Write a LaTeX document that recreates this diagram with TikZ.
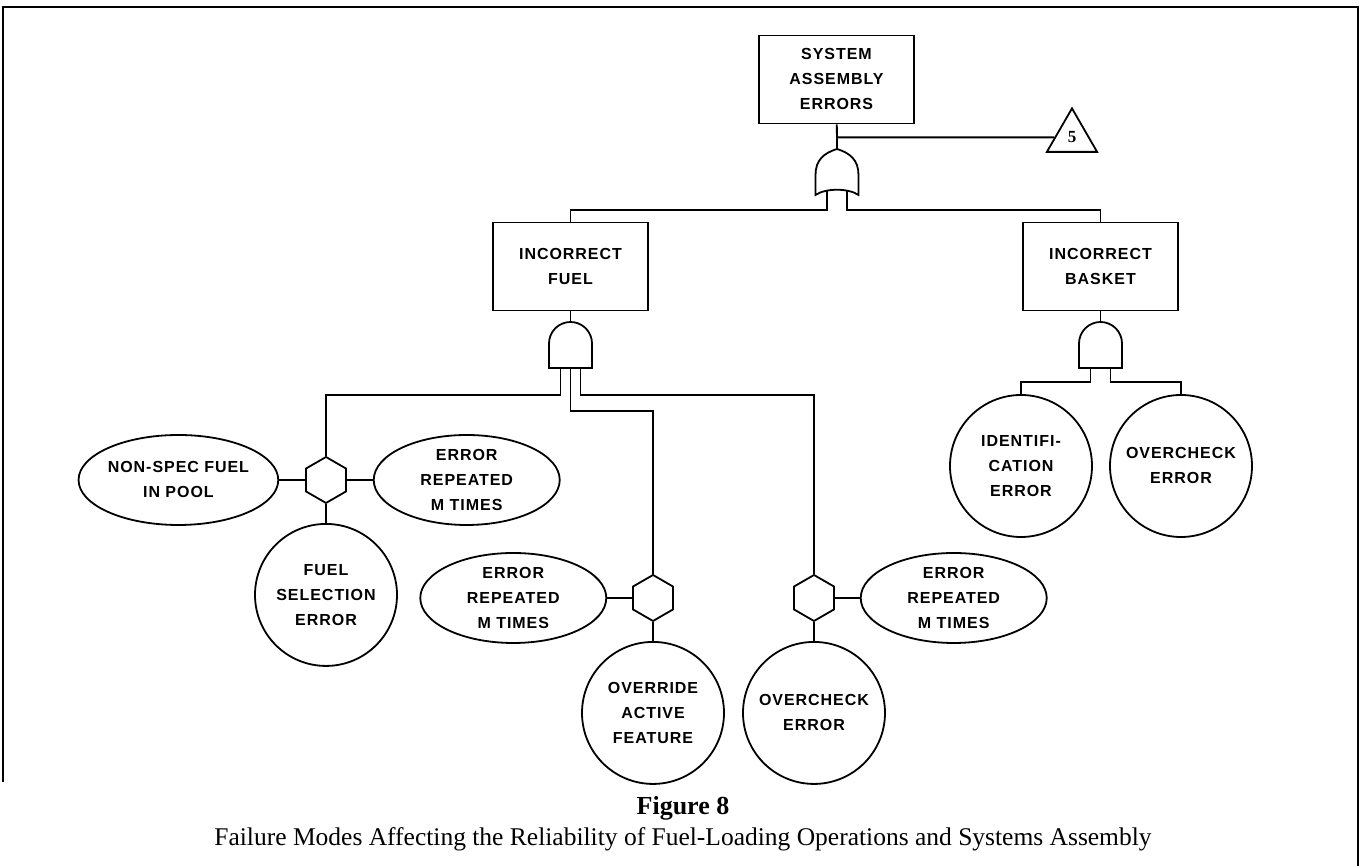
\documentclass[tikz,border=0pt]{standalone}
\usepackage{fontspec}
\setmainfont{Liberation Serif}
\newfontfamily\ftafont[LetterSpace=6]{Liberation Sans}
\usetikzlibrary{positioning,shapes.geometric}

\begin{document}
\begin{tikzpicture}[x=1pt,y=1pt,
    line width=1.8pt,
    every node/.style={inner sep=0pt,align=center,
      font=\ftafont\bfseries\fontsize{16}{25}\selectfont},
    event/.style={draw,rectangle,minimum width=155pt,minimum height=88pt},
    basic/.style={draw,circle,minimum size=142pt},
    cond/.style={draw,ellipse,minimum width=186pt,minimum height=90pt},
    inhibit/.style={draw,regular polygon,regular polygon sides=6,
      shape border rotate=30,minimum size=46pt},
    transfer/.style={draw,regular polygon,regular polygon sides=3,
      minimum size=58pt,font=\rmfamily\bfseries\fontsize{17}{18}\selectfont},
    gate/.style={minimum width=43pt,minimum height=46pt,outer sep=0pt}]
    \useasboundingbox (0,0) rectangle (1366,866);
    % frame
    \draw (3,84) -- (3,859) -- (1358,859) -- (1358,0);

    \node[event] (top) at (836.5,786.5) {SYSTEM\\ASSEMBLY\\ERRORS};
    \node[gate] (or1) at (837,694) {};
    \node[transfer] (tri) at (1072,728.6) {5};
    \node[event] (fuel) at (570.5,599.5) {INCORRECT\\FUEL};
    \node[event] (basket) at (1100.5,599.5) {INCORRECT\\BASKET};
    \node[gate] (and1) at (570.5,521) {};
    \node[gate] (and2) at (1100.5,521) {};

    \node[inhibit] (hex1) at (326,386) {};
    \node[cond] (nonspec) [left=26pt of hex1] {NON-SPEC FUEL\\IN POOL};
    \node[cond] (rep1) [right=26pt of hex1] {ERROR\\REPEATED\\M TIMES};
    \node[basic] (fuelsel) [below=19pt of hex1] {FUEL\\SELECTION\\ERROR};

    \node[inhibit] (hex2) at (653,268) {};
    \node[cond] (rep2) [left=25pt of hex2] {ERROR\\REPEATED\\M TIMES};
    \node[basic] (override) [below=19pt of hex2] {OVERRIDE\\ACTIVE\\FEATURE};

    \node[inhibit] (hex3) at (814,268) {};
    \node[cond] (rep3) [right=25pt of hex3] {ERROR\\REPEATED\\M TIMES};
    \node[basic] (overchk) [below=19pt of hex3] {OVERCHECK\\ERROR};

    \node[basic] (ident) at (1021,400) {IDENTIFI-\\CATION\\ERROR};
    \node[basic] (overchkb) at (1181,400) {OVERCHECK\\ERROR};

    % gate outlines
    \draw (or1.south west) -- ++(0,20) .. controls +(0,15) and +(-13,-4) .. (or1.north)
        .. controls +(13,-4) and +(0,15) .. ([yshift=20pt]or1.south east) -- (or1.south east)
        .. controls +(-10,7) and +(10,7) .. (or1.south west) -- cycle;
    \foreach \g in {and1,and2}
        \draw (\g.south west) -- ([yshift=-21.5pt]\g.north west)
            arc[start angle=180,end angle=0,radius=21.5pt] -- (\g.south east) -- cycle;

    \draw (top) -- (or1.north);
    \draw (top.south |- tri) -- (tri);
    \draw ([xshift=-10pt,yshift=4pt]or1.south) -- ++(0,-19) -| (fuel);
    \draw ([xshift=10pt,yshift=4pt]or1.south) -- ++(0,-19) -| (basket);
    \draw (fuel) -- (and1);
    \draw (basket) -- (and2);
    \draw ([xshift=-10pt]and1.south) -- ++(0,-27) -| (hex1);
    \draw (and1.south) -- ++(0,-43) -| (hex2);
    \draw ([xshift=10pt]and1.south) -- ++(0,-27) -| (hex3);
    \draw ([xshift=-10pt]and2.south) -- ++(0,-14) -| (ident);
    \draw ([xshift=10pt]and2.south) -- ++(0,-14) -| (overchkb);
    \path (hex1) edge (nonspec)
          (hex1) edge (rep1)
          (hex1) edge (fuelsel)
          (hex2) edge (rep2)
          (hex2) edge (override)
          (hex3) edge (rep3)
          (hex3) edge (overchk);

    \node[font=\rmfamily\bfseries\fontsize{26}{30}\selectfont] (fig) at (683,58) {Figure 8};
    \node[font=\rmfamily\fontsize{25.5}{30}\selectfont] (cap) at (683,27)
        {Failure Modes Affecting the Reliability of Fuel-Loading Operations and Systems Assembly};
\end{tikzpicture}
\end{document}
